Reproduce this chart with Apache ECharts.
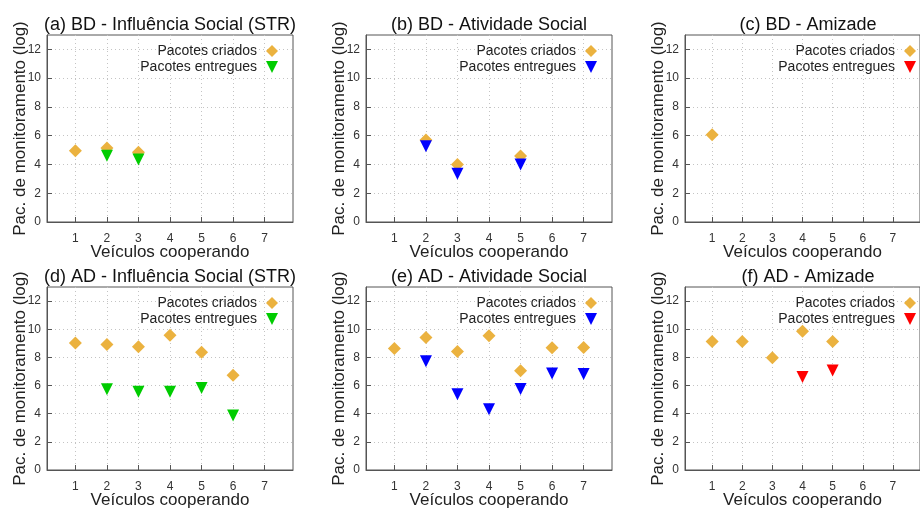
<!DOCTYPE html>
<html>
<head>
<meta charset="utf-8">
<script src="https://cdn.jsdelivr.net/npm/echarts@6/dist/echarts.min.js"></script>
<style>
html,body{margin:0;padding:0;background:#fff;}
#chart{width:920px;height:510px;}
</style>
</head>
<body>
<div id="chart"></div>
<script>
// ---- data ----
const xValues = [1, 2, 3, 4, 5, 6, 7];
const yTicks = [0, 2, 4, 6, 8, 10, 12];
const titles = [
  "(a) BD - Influência Social (STR)",
  "(b) BD - Atividade Social",
  "(c) BD - Amizade",
  "(d) AD - Influência Social (STR)",
  "(e) AD - Atividade Social",
  "(f) AD - Amizade"
];
const seriesNames = ["Pacotes criados", "Pacotes entregues"];
const xAxisTitle = "Veículos cooperando";
const yAxisTitle = "Pac. de monitoramento (log)";

// Pacotes criados per panel (index = veículos - 1)
const criadosA = [4.95, 5.15, 4.85, null, null, null, null];
const criadosB = [null, 5.7, 4.0, null, 4.58, null, null];
const criadosC = [6.06, null, null, null, null, null, null];
const criadosD = [9.03, 8.92, 8.75, 9.58, 8.37, 6.73, null];
const criadosE = [8.64, 9.42, 8.41, 9.54, 7.05, 8.69, 8.71];
const criadosF = [9.12, 9.12, 7.97, 9.86, 9.12, null, null];

// Pacotes entregues per panel
const entreguesA = [null, 4.6, 4.34, null, null, null, null];
const entreguesB = [null, 5.27, 3.36, null, 3.99, null, null];
const entreguesC = [null, null, null, null, null, null, null];
const entreguesD = [null, 5.74, 5.55, 5.55, 5.83, 3.87, null];
const entreguesE = [null, 7.72, 5.39, 4.31, 5.76, 6.86, 6.82];
const entreguesF = [null, null, null, 6.61, 7.07, null, null];

const criadosAll = [criadosA, criadosB, criadosC, criadosD, criadosE, criadosF];
const entreguesAll = [entreguesA, entreguesB, entreguesC, entreguesD, entreguesE, entreguesF];
const entreguesColors = ["#00cc00", "#0000ff", "#ff0000", "#00cc00", "#0000ff", "#ff0000"];
const criadosColor = "#ebb23f";

// ---- layout ----
const FONT = "Liberation Sans";
const colStep = 319, rowStep = 252;
const gridLeft0 = 47, gridW = 246, gridTop0 = 35, gridH = 187;

const grids = [], xAxes = [], yAxes = [], series = [], legends = [], titleArr = [];
for (let p = 0; p < 6; p++) {
  const col = p % 3, row = Math.floor(p / 3);
  const left = gridLeft0 + col * colStep;
  const top = gridTop0 + row * rowStep;
  grids.push({
    left: left, top: top, width: gridW, height: gridH,
    show: true, borderColor: "#555", borderWidth: 1, backgroundColor: "transparent",
    containLabel: false
  });
  xAxes.push({
    gridIndex: p, type: "value", min: 0.1, max: 7.9,
    name: xAxisTitle, nameLocation: "middle", nameGap: 22, nameMoveOverlap: false,
    nameTextStyle: { fontFamily: FONT, fontSize: 17, color: "#222" },
    axisLine: { show: true, lineStyle: { color: "#555" } },
    axisTick: { show: true, inside: true, length: 5, customValues: xValues, lineStyle: { color: "#555" } },
    axisLabel: { customValues: xValues, margin: 11, fontFamily: FONT, fontSize: 12, color: "#333" },
    splitLine: { show: true, lineStyle: { color: "#c4c4c4", type: [1, 3], width: 1 } }
  });
  yAxes.push({
    gridIndex: p, type: "value", min: 0, max: 13,
    name: yAxisTitle, nameLocation: "middle", nameGap: 18, nameMoveOverlap: false,
    nameTextStyle: { fontFamily: FONT, fontSize: 17, color: "#222" },
    axisLine: { show: true, lineStyle: { color: "#555" } },
    axisTick: { show: true, inside: true, length: 5, customValues: yTicks, lineStyle: { color: "#555" } },
    axisLabel: { customValues: yTicks, margin: 6, fontFamily: FONT, fontSize: 12, color: "#333" },
    splitLine: { show: true, lineStyle: { color: "#c4c4c4", type: [1, 3], width: 1 } }
  });
  series.push({
    type: "scatter", name: seriesNames[0], xAxisIndex: p, yAxisIndex: p,
    symbol: "diamond", symbolSize: 13,
    itemStyle: { color: criadosColor, opacity: 1 },
    data: xValues.map((x, i) => [x, criadosAll[p][i]]).filter(d => d[1] !== null),
    silent: true, animation: false
  });
  series.push({
    type: "scatter", name: seriesNames[1], xAxisIndex: p, yAxisIndex: p,
    symbol: "triangle", symbolRotate: 180, symbolSize: 12,
    itemStyle: { color: entreguesColors[p], opacity: 1 },
    data: xValues.map((x, i) => [x, entreguesAll[p][i]]).filter(d => d[1] !== null),
    silent: true, animation: false
  });
  const iconRight = 278 + col * colStep;
  legends.push({
    orient: "vertical", align: "right",
    right: 920 - iconRight, top: 44 + row * rowStep,
    padding: 0, itemGap: 2, itemWidth: 12, itemHeight: 12,
    selectedMode: false,
    textStyle: { fontFamily: FONT, fontSize: 14, color: "#222", lineHeight: 14, padding: [0, 4, 0, 0] },
    data: [
      { name: seriesNames[0], icon: "diamond", itemStyle: { color: criadosColor } },
      { name: seriesNames[1], icon: "path://M0,0 L10,0 L5,10 Z", itemStyle: { color: entreguesColors[p] } }
    ]
  });
  titleArr.push({
    text: titles[p], left: left + gridW / 2, top: 16 + row * rowStep, textAlign: "center",
    padding: 0,
    textStyle: { fontFamily: FONT, fontSize: 18, fontWeight: "normal", color: "#111" }
  });
}

const chart = echarts.init(document.getElementById("chart"), null, { renderer: "canvas" });
chart.setOption({
  animation: false,
  backgroundColor: "#fff",
  title: titleArr,
  legend: legends,
  grid: grids,
  xAxis: xAxes,
  yAxis: yAxes,
  series: series
});
</script>
</body>
</html>
